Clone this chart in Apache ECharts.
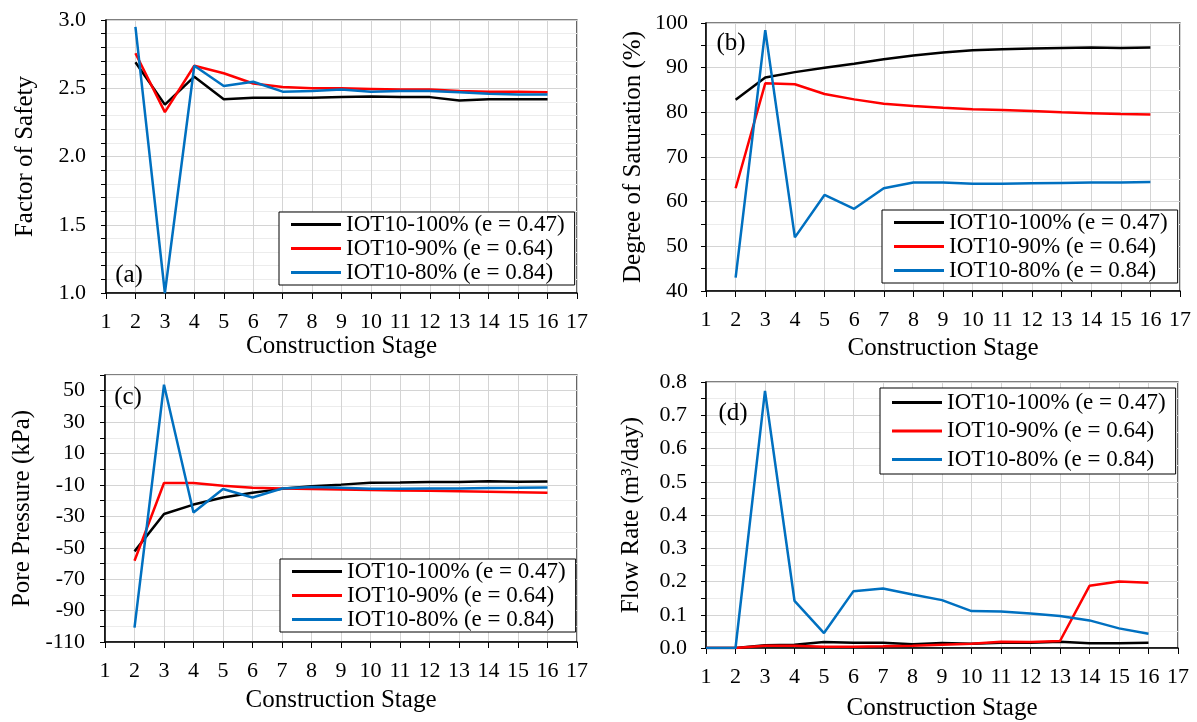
<!DOCTYPE html>
<html>
<head>
<meta charset="utf-8">
<script src="https://cdn.jsdelivr.net/npm/echarts@6/dist/echarts.min.js"></script>
<style>
html,body{margin:0;padding:0;background:#fff;}
#chart{width:1197px;height:722px;}
</style>
</head>
<body>
<div id="chart"></div>
<script>
// ---------- DATA ----------
const seriesNames = ['IOT10-100% (e = 0.47)', 'IOT10-90% (e = 0.64)', 'IOT10-80% (e = 0.84)'];
const stagesABC = [2, 3, 4, 5, 6, 7, 8, 9, 10, 11, 12, 13, 14, 15, 16];
const stagesD = [1, 2, 3, 4, 5, 6, 7, 8, 9, 10, 11, 12, 13, 14, 15, 16];

// (a) Factor of Safety
const fosBlack = [2.69, 2.38, 2.585, 2.42, 2.43, 2.43, 2.43, 2.435, 2.44, 2.435, 2.435, 2.41, 2.42, 2.42, 2.42];
const fosRed   = [2.756, 2.325, 2.665, 2.61, 2.535, 2.51, 2.50, 2.50, 2.495, 2.49, 2.49, 2.48, 2.475, 2.475, 2.47];
const fosBlue  = [2.95, 1.0, 2.665, 2.516, 2.548, 2.475, 2.48, 2.49, 2.475, 2.48, 2.48, 2.47, 2.46, 2.455, 2.455];

// (b) Degree of Saturation (%)
const satBlack = [82.8, 87.8, 89.0, 90.0, 90.9, 91.9, 92.7, 93.4, 93.9, 94.1, 94.3, 94.4, 94.5, 94.4, 94.5];
const satRed   = [63.0, 86.5, 86.3, 84.1, 82.9, 81.9, 81.4, 81.0, 80.7, 80.5, 80.3, 80.0, 79.8, 79.6, 79.5];
const satBlue  = [43.0, 98.4, 52.0, 61.5, 58.4, 63.0, 64.3, 64.3, 64.0, 64.0, 64.1, 64.2, 64.3, 64.3, 64.4];

// (c) Pore Pressure (kPa)
const ppBlack = [-52.3, -28.5, -22.5, -18.0, -15.0, -12.5, -10.8, -9.8, -8.6, -8.4, -8.1, -8.2, -7.7, -7.9, -7.8];
const ppRed   = [-58.3, -8.8, -8.8, -10.5, -11.8, -12.3, -12.6, -12.9, -13.2, -13.5, -13.7, -14.0, -14.3, -14.6, -15.0];
const ppBlue  = [-100.8, 53.8, -27.5, -12.6, -18.0, -12.3, -11.3, -11.8, -12.4, -12.4, -12.3, -12.2, -11.9, -11.8, -11.6];

// (d) Flow Rate (m³/day)
const frBlack = [0, 0, 0.008, 0.010, 0.018, 0.016, 0.016, 0.011, 0.015, 0.013, 0.016, 0.016, 0.019, 0.014, 0.014, 0.016];
const frRed   = [0, 0, 0.007, 0.007, 0.004, 0.004, 0.005, 0.007, 0.010, 0.013, 0.019, 0.018, 0.021, 0.187, 0.200, 0.196];
const frBlue  = [0, 0, 0.773, 0.142, 0.045, 0.171, 0.179, 0.161, 0.144, 0.111, 0.110, 0.104, 0.096, 0.083, 0.059, 0.043];

const xTickLabels = ['1','2','3','4','5','6','7','8','9','10','11','12','13','14','15','16','17'];
const panelLabels = ['(a)', '(b)', '(c)', '(d)'];
const yTitles = ['Factor of Safety', 'Degree of Saturation (%)', 'Pore Pressure (kPa)', 'Flow Rate (m\u00b3/day)'];
const xTitle = 'Construction Stage';

// ---------- STYLE ----------
const FONT = 'Liberation Serif';
const colors = ['#000000', '#ff0000', '#0070c0'];
const MAJOR = '#d4d4d4', MINOR = '#ececec';

const grids = [
  {left: 106, top: 20, width: 471, height: 273},
  {left: 706, top: 23, width: 474, height: 268},
  {left: 105, top: 375, width: 472, height: 267},
  {left: 706, top: 382, width: 472, height: 266}
];

function xAxisFor(i, nameGap) {
  return {
    gridIndex: i, type: 'value', min: 1, max: 17, interval: 1,
    name: xTitle, nameLocation: 'middle', nameGap: nameGap,
    nameTextStyle: {fontFamily: FONT, fontSize: 25, color: '#000'},
    axisLine: {show: true, onZero: false, lineStyle: {color: '#000', width: 1.5}},
    axisTick: {show: true, length: 6, lineStyle: {color: '#000', width: 1}},
    axisLabel: {fontFamily: FONT, fontSize: 22, color: '#000', margin: 18,
      formatter: v => xTickLabels[Math.round(v) - 1] || ''},
    splitLine: {show: true, lineStyle: {color: MAJOR, width: 1}}
  };
}

function yAxisFor(i, opts) {
  return {
    gridIndex: i, type: 'value', min: opts.min, max: opts.max, interval: opts.interval,
    name: yTitles[i], nameLocation: 'middle', nameGap: opts.nameGap,
    nameTextStyle: {fontFamily: FONT, fontSize: 25, color: '#000'},
    axisLine: {show: true, onZero: false, lineStyle: {color: '#000', width: 1.5}},
    axisTick: {show: true, length: 5, lineStyle: {color: '#000', width: 1}},
    axisLabel: {fontFamily: FONT, fontSize: 22, color: '#000', margin: opts.margin, formatter: opts.formatter},
    splitLine: {show: true, lineStyle: {color: opts.splitColors, width: 1}}
  };
}

const yAxes = [
  yAxisFor(0, {min: 1, max: 3, interval: 0.1, nameGap: 68, margin: 20,
    splitColors: [MAJOR, MINOR, MINOR, MINOR, MINOR],
    formatter: v => { const k = Math.round(v * 10); return k % 5 === 0 ? (k / 10).toFixed(1) : ''; }}),
  yAxisFor(1, {min: 40, max: 100, interval: 5, nameGap: 60, margin: 18,
    splitColors: [MAJOR, MINOR],
    formatter: v => (Math.round(v) % 10 === 0 ? String(Math.round(v)) : '')}),
  yAxisFor(2, {min: -110, max: 60, interval: 10, nameGap: 70, margin: 20,
    splitColors: [MAJOR, MINOR],
    formatter: v => { const r = Math.round(v); return ((r + 110) % 20 === 0 && r <= 50) ? String(r) : ''; }}),
  yAxisFor(3, {min: 0, max: 0.8, interval: 0.05, nameGap: 62, margin: 19,
    splitColors: [MAJOR, MINOR],
    formatter: v => { const k = Math.round(v * 100); return k % 10 === 0 ? (k / 100).toFixed(1) : ''; }})
];

const xAxes = [xAxisFor(0, 40), xAxisFor(1, 45), xAxisFor(2, 46), xAxisFor(3, 48)];

const panelData = [
  [stagesABC, [fosBlack, fosRed, fosBlue]],
  [stagesABC, [satBlack, satRed, satBlue]],
  [stagesABC, [ppBlack, ppRed, ppBlue]],
  [stagesD, [frBlack, frRed, frBlue]]
];

const series = [];
panelData.forEach(([xs, ys], gi) => {
  ys.forEach((vals, si) => {
    series.push({
      name: seriesNames[si], type: 'line', xAxisIndex: gi, yAxisIndex: gi,
      data: xs.map((x, k) => [x, vals[k]]),
      symbol: 'none', lineStyle: {color: colors[si], width: 2.5}, itemStyle: {color: colors[si]},
      animation: false, z: 3 + si
    });
  });
});

function legendAt(left, top, gap, padV) {
  return {
    orient: 'vertical', left: left, top: top, itemGap: gap,
    data: seriesNames, icon: 'rect', itemWidth: 50, itemHeight: 3,
    textStyle: {fontFamily: FONT, fontSize: 23, color: '#000', lineHeight: 23, padding: [0, 0, 0, 0]},
    backgroundColor: '#fff', borderColor: '#000', borderWidth: 1,
    padding: [padV, 10, padV, 12], selectedMode: false
  };
}

const legends = [
  legendAt(279, 212, 1, 1),
  legendAt(882, 210, 1, 1),
  legendAt(280, 559, 1, 1),
  legendAt(880, 388, 5.5, 3)
];

const labelPos = [[129, 275], [731, 43], [128, 397], [733, 413]];
const graphic = panelLabels.map((t, i) => ({
  type: 'text', x: labelPos[i][0], y: labelPos[i][1], z: 10,
  style: {text: t, fontFamily: FONT, fontSize: 25, fill: '#000', textAlign: 'center', textVerticalAlign: 'middle'}
}));

const chart = echarts.init(document.getElementById('chart'), null, {renderer: 'canvas'});
chart.setOption({
  backgroundColor: '#fff',
  animation: false,
  grid: grids.map(g => Object.assign({show: true, borderColor: '#000', borderWidth: 1.2, backgroundColor: 'transparent', containLabel: false}, g)),
  xAxis: xAxes,
  yAxis: yAxes,
  legend: legends,
  series: series,
  graphic: graphic
});
</script>
</body>
</html>
